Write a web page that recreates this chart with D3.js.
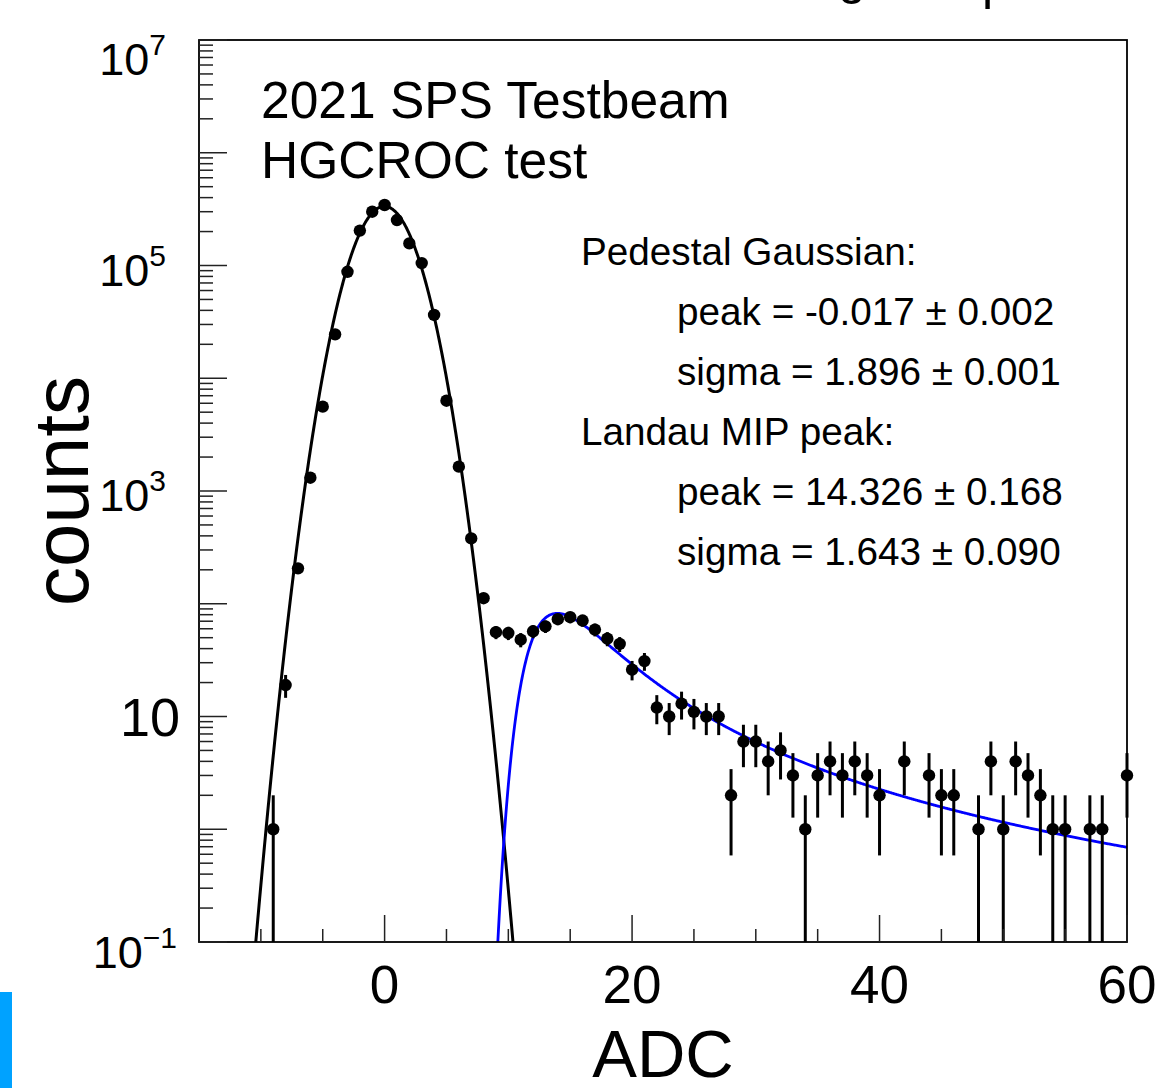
<!DOCTYPE html>
<html><head><meta charset="utf-8">
<script src="https://cdn.jsdelivr.net/npm/d3@7"></script>
<style>
body{margin:0;background:#fff;}
svg{display:block;}
text{font-family:"Liberation Sans",Arial,Helvetica,sans-serif;fill:#000;}
</style>
</head><body>
<svg id="c" width="1164" height="1088"></svg>
<script>
// ---- data ----
const adcBins = [-9,-8,-7,-6,-5,-4,-3,-2,-1,0,1,2,3,4,5,6,7,8,9,10,11,12,13,14,15,16,17,18,19,20,
  21,22,23,24,25,26,27,28,29,30,31,32,33,34,35,36,37,38,39,40,41,42,43,44,45,46,47,48,49,50,
  51,52,53,54,55,56,57,58,59,60];
const binCounts = [1,19,206,1312,5600,24500,88000,204000,300000,344000,253000,157000,105000,36400,6320,1644,380,112,56,55,
  48,57,63,73,76,71,59,49,44,26,31,12,10,13,11,10,10,2,6,6,4,5,3,1,3,4,3,4,3,2,
  0,4,0,3,2,2,0,1,4,1,4,3,2,1,1,0,1,1,0,3];
const gausParams = [335000, -0.017, 1.896];      // constant, mean, sigma
const landauParams = [455, 14.326, 1.643];       // constant, mpv, sigma
const xDomain = [-15, 60];
const yDomain = [0.1, 1e7];
const xMajorTicks = [0, 20, 40, 60];
const xMinorTicks = [-10, -5, 5, 10, 15, 25, 30, 35, 45, 50, 55];
const xTickLabels = ["0", "20", "40", "60"];
const yDecades = [-1, 0, 1, 2, 3, 4, 5, 6, 7];
const yLabelExps = [-1, 1, 3, 5, 7];
const headerLines = ["2021 SPS Testbeam", "HGCROC test"];
const statLines = ["Pedestal Gaussian:", "peak = -0.017 \u00b1 0.002", "sigma = 1.896 \u00b1 0.001",
                   "Landau MIP peak:", "peak = 14.326 \u00b1 0.168", "sigma = 1.643 \u00b1 0.090"];
const statIndent = [false, true, true, false, true, true];
const xTitle = "ADC", yTitle = "counts";

// ---- layout ----
const L = 199, R = 1127, T = 40, B = 942;
const svg = d3.select("#c");
const x = d3.scaleLinear().domain(xDomain).range([L, R]);
const y = d3.scaleLog().domain(yDomain).range([B, T]);

// Landau density (CERNLIB DENLAN, as in ROOT TMath::Landau)
function denlan(v) {
  const p1=[0.4259894875,-0.1249762550,0.03984243700,-0.006298287635,0.001511162253],
        q1=[1.0,-0.3388260629,0.09594393323,-0.01608042283,0.003778942063],
        p2=[0.1788541609,0.1173957403,0.01488850518,-0.001394989411,0.0001283617211],
        q2=[1.0,0.7428795082,0.3153932961,0.06694219548,0.008790609714],
        p3=[0.1788544503,0.09359161662,0.006325387654,0.00006611667319,-0.000002031049101],
        q3=[1.0,0.6097809921,0.2560616665,0.04746722384,0.006957301675],
        p4=[0.9874054407,118.6723273,849.2794360,-743.7792444,427.0262186],
        q4=[1.0,106.8615961,337.6496214,2016.712389,1597.063511],
        p5=[1.003675074,167.5702434,4789.711289,21217.86767,-22324.94910],
        q5=[1.0,156.9424537,3745.310488,9834.698876,66924.28357],
        p6=[1.000827619,664.9143136,62972.92665,475554.6998,-5743609.109],
        q6=[1.0,651.4101098,56974.73333,165917.4725,-2815759.939],
        a1=[0.04166666667,-0.01996527778,0.02709538966], a2=[-1.845568670,-4.284640743];
  const poly=(c,t)=>c[0]+(c[1]+(c[2]+(c[3]+c[4]*t)*t)*t)*t;
  let u;
  if (v < -5.5) { u=Math.exp(v+1); if(u<1e-10) return 0; return 0.3989422803*(Math.exp(-1/u)/Math.sqrt(u))*(1+(a1[0]+(a1[1]+a1[2]*u)*u)*u); }
  if (v < -1) { u=Math.exp(-v-1); return Math.exp(-u)*Math.sqrt(u)*poly(p1,v)/poly(q1,v); }
  if (v < 1) return poly(p2,v)/poly(q2,v);
  if (v < 5) return poly(p3,v)/poly(q3,v);
  if (v < 12) { u=1/v; return u*u*poly(p4,u)/poly(q4,u); }
  if (v < 50) { u=1/v; return u*u*poly(p5,u)/poly(q5,u); }
  if (v < 300) { u=1/v; return u*u*poly(p6,u)/poly(q6,u); }
  u=1/(v-v*Math.log(v)/(v+1)); return u*u*(1+(a2[0]+a2[1]*u)*u);
}
const gaus = t => gausParams[0]*Math.exp(-0.5*Math.pow((t-gausParams[1])/gausParams[2],2));
const landau = t => landauParams[0]*denlan((t-landauParams[1])/landauParams[2]);

// clip
svg.append("defs").append("clipPath").attr("id","plot")
  .append("rect").attr("x",L).attr("y",T).attr("width",R-L).attr("height",B-T);

// blue strip at lower left (as in reference crop)
svg.append("rect").attr("x",0).attr("y",992).attr("width",12).attr("height",96).attr("fill","#00a2ff");

// title, mostly above the visible area
const ttl = svg.append("text").attr("font-size",50);
ttl.append("tspan").attr("x",838).attr("y",-6).text("g");
ttl.append("tspan").attr("x",982).attr("y",-1).text("p");

// data
const pts = adcBins.map((b,i)=>({b, n: binCounts[i]})).filter(d=>d.n>0);
const gData = svg.append("g").attr("clip-path","url(#plot)");

// fitted curves
const samples = d3.range(xDomain[0], xDomain[1]+0.001, 0.05);
const line = d3.line().x(d=>x(d[0])).y(d=>y(Math.max(d[1],1e-3)));
gData.append("path").datum(samples.map(t=>[t,gaus(t)]))
  .attr("d",line).attr("fill","none").attr("stroke","#000").attr("stroke-width",3);
gData.append("path").datum(samples.filter(t=>t>5).map(t=>[t,landau(t)]))
  .attr("d",line).attr("fill","none").attr("stroke","#0000ff").attr("stroke-width",2.8);

// error bars & markers
const gPts = svg.append("g");
gPts.selectAll("line.err").data(pts).join("line").attr("class","err")
  .attr("x1",d=>x(d.b)).attr("x2",d=>x(d.b))
  .attr("y1",d=>y(d.n+Math.sqrt(d.n)))
  .attr("y2",d=>{const lo=d.n-Math.sqrt(d.n); return lo>yDomain[0]? y(lo): B;})
  .attr("stroke","#000").attr("stroke-width",3);
gPts.selectAll("circle").data(pts).join("circle")
  .attr("cx",d=>x(d.b)).attr("cy",d=>y(d.n)).attr("r",6.2).attr("fill","#000");

// frame
svg.append("rect").attr("x",L).attr("y",T).attr("width",R-L).attr("height",B-T)
  .attr("fill","none").attr("stroke","#000").attr("stroke-width",1.8);

// x axis ticks
const gx = svg.append("g");
gx.selectAll("line.maj").data(xMajorTicks).join("line").attr("class","maj")
  .attr("x1",d=>x(d)).attr("x2",d=>x(d)).attr("y1",B).attr("y2",B-27).attr("stroke","#222").attr("stroke-width",1.5);
gx.selectAll("line.min").data(xMinorTicks).join("line").attr("class","min")
  .attr("x1",d=>x(d)).attr("x2",d=>x(d)).attr("y1",B).attr("y2",B-13).attr("stroke","#222").attr("stroke-width",1.5);
gx.selectAll("text").data(xMajorTicks).join("text")
  .attr("x",d=>x(d)).attr("y",1003).attr("text-anchor","middle").attr("font-size",53)
  .text((d,i)=>xTickLabels[i]);

// y axis ticks
const gy = svg.append("g");
const yMinor = [];
yDecades.forEach(e=>{ if(e<7) for(let k=2;k<=9;k++) yMinor.push(k*Math.pow(10,e)); });
gy.selectAll("line.maj").data(yDecades).join("line").attr("class","maj")
  .attr("x1",L).attr("x2",L+28).attr("y1",d=>y(Math.pow(10,d))).attr("y2",d=>y(Math.pow(10,d)))
  .attr("stroke","#222").attr("stroke-width",1.5);
gy.selectAll("line.min").data(yMinor).join("line").attr("class","min")
  .attr("x1",L).attr("x2",L+14).attr("y1",d=>y(d)).attr("y2",d=>y(d))
  .attr("stroke","#222").attr("stroke-width",1.5);
yLabelExps.forEach(e=>{
  const ty = y(Math.pow(10,e));
  if (e===1) {
    svg.append("text").attr("x",180).attr("y",ty+19).attr("text-anchor","end").attr("font-size",54).text("10");
  } else {
    // top and bottom labels sit slightly inside the axis range, as in the reference
    const base = e===7 ? ty+35 : (e===-1 ? ty+26 : ty+20);
    const t = svg.append("text").attr("x", e<0?177:166).attr("y",base).attr("text-anchor","end").attr("font-size",45);
    t.append("tspan").text("10");
    t.append("tspan").attr("dy",-20).attr("font-size",30).text(e<0? "\u2212"+(-e) : String(e));
  }
});

// axis titles
svg.append("text").attr("x",(L+R)/2).attr("y",1077).attr("text-anchor","middle").attr("font-size",67).text(xTitle);
svg.append("text").attr("transform",`translate(88,${(T+B)/2}) rotate(-90)`).attr("text-anchor","middle")
  .attr("font-size",78).text(yTitle);

// header text
svg.selectAll("text.hdr").data(headerLines).join("text").attr("class","hdr")
  .attr("x",261).attr("y",(d,i)=>118+60*i).attr("font-size",51.5).text(d=>d);

// stats
svg.selectAll("text.st").data(statLines).join("text").attr("class","st")
  .attr("x",(d,i)=>statIndent[i]?677:581).attr("y",(d,i)=>265+60*i).attr("font-size",38.7).text(d=>d);
</script>
</body></html>
